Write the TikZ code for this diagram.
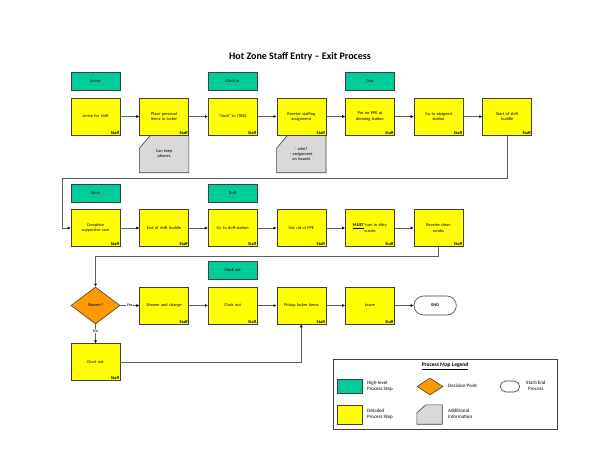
\documentclass[tikz,border=0pt]{standalone}
\usepackage{fontspec}
\setmainfont{Carlito}
\usepackage{tikz}
\usetikzlibrary{arrows.meta, positioning, shapes.geometric, shapes.misc, backgrounds}

\definecolor{phasegreen}{RGB}{0,204,153}
\definecolor{stepyellow}{RGB}{255,255,0}
\definecolor{decorange}{RGB}{255,153,0}
\definecolor{notegray}{RGB}{217,217,217}
\definecolor{edgegray}{RGB}{64,64,64}
\definecolor{linegray}{RGB}{95,95,95}

\newcommand{\boxfont}{\fontsize{4.3}{5.2}\selectfont}
% outline of a note with its top left corner cut off
\newcommand{\notecut}[3]{%
  \filldraw[draw=edgegray, fill=notegray, line width=0.6pt]
    ([yshift=-#3]#1.north west) -- ([xshift=#2]#1.north west) -- (#1.north east)
    -- (#1.south east) -- (#1.south west) -- cycle;}

\tikzset{
  stepbox/.style={rectangle, draw=edgegray, line width=0.6pt, fill=stepyellow,
    minimum width=49pt, minimum height=37pt, inner sep=2pt, text width=45pt,
    align=center, font=\boxfont,
    label={[anchor=south east, inner sep=1pt, font=\boxfont\bfseries]south east:Staff}},
  phase/.style={rectangle, draw=edgegray, line width=0.6pt, fill=phasegreen,
    minimum width=49pt, minimum height=18pt, font=\boxfont},
  notebox/.style={rectangle, minimum width=49pt, minimum height=37pt, inner sep=2pt,
    text width=45pt, align=center, font=\boxfont},
  decision/.style={diamond, draw=edgegray, line width=0.6pt, fill=decorange,
    minimum width=49pt, minimum height=37pt, inner sep=0pt, font=\boxfont},
  terminal/.style={rounded rectangle, draw=edgegray, line width=0.6pt, fill=white,
    minimum width=49pt, minimum height=19pt, font=\boxfont\bfseries},
  flow/.style={-{Latex[length=3pt,width=3pt,black]}, draw=linegray, line width=0.8pt},
  legtext/.style={anchor=west, align=left, font=\fontsize{5}{6}\selectfont, inner sep=0pt}
}

\begin{document}
\begin{tikzpicture}[x=1pt, y=-1pt, node distance=19pt]
  \useasboundingbox (0,0) rectangle (600,469);

  \node (title) at (300,57) {\bfseries\fontsize{10}{12}\selectfont Hot Zone Staff Entry -- Exit Process};

  % entry row
  \node (a1) [stepbox] at (95.5,116.5) {Arrive for shift};
  \node (a2) [stepbox, right=of a1] {Place personal\\items in locker};
  \node (a3) [stepbox, right=of a2] {``clock'' in (TBD)};
  \node (a4) [stepbox, right=of a3] {Receive staffing\\assignment};
  \node (a5) [stepbox, right=of a4] {Put on PPE at\\donning station};
  \node (a6) [stepbox, right=of a5] {Go to assigned\\station};
  \node (a7) [stepbox, right=of a6] {Start of shift\\huddle};

  \node (pArrive) [phase, above=7pt of a1] {Arrive};
  \node (pClockin) [phase, above=7pt of a3] {Clock in};
  \node (pDon) [phase, above=7pt of a5] {Don};

  \node (n1) [notebox, below=0pt of a2] {Can keep\\phones};
  \node (n2) [notebox, below=0pt of a4] {- who?\\- assignment\\on boards};

  % work row
  \node (w1) [stepbox] at (95.5,228) {Complete\\supportive care};
  \node (w2) [stepbox, right=of w1] {End of shift huddle};
  \node (w3) [stepbox, right=of w2] {Go to doff station};
  \node (w4) [stepbox, right=of w3] {Get rid of PPE};
  \node (w5) [stepbox, right=of w4] {\textbf{\underline{MUST}} turn in dirty\\scrubs};
  \node (w6) [stepbox, right=of w5] {Receive clean\\scrubs};

  \node (pWork) [phase, above=7pt of w1] {Work};
  \node (pDoff) [phase, above=7pt of w3] {Doff};

  % exit row
  \node (dec) [decision] at (95.5,305.5) {Shower?};
  \node (x1) [stepbox, right=of dec] {Shower and change};
  \node (x2) [stepbox, right=of x1] {Clock out};
  \node (x3) [stepbox, right=of x2] {Pickup locker items};
  \node (x4) [stepbox, right=of x3] {Leave};
  \node (done) [terminal, right=of x4] {END};
  \node (co) [stepbox, below=of dec] {Clock out};

  \node (pClockout) [phase, above=7pt of x2] {Clock out};

  \coordinate (t1) at (62,178);
  \coordinate (t2) at (95.5,256);

  \path[flow]
  (a1) edge (a2)
  (a2) edge (a3)
  (a3) edge (a4)
  (a4) edge (a5)
  (a5) edge (a6)
  (a6) edge (a7)
  (w1) edge (w2)
  (w2) edge (w3)
  (w3) edge (w4)
  (w4) edge (w5)
  (w5) edge (w6)
  (dec) edge node [fill=white, inner sep=0.5pt, font=\boxfont] {Yes} (x1)
  (x1) edge (x2)
  (x2) edge (x3)
  (x3) edge (x4)
  (x4) edge (done)
  (dec) edge node [pos=0.35, fill=white, inner sep=0.5pt, font=\boxfont] {No} (co);

  \draw[flow] (a7.south) |- (t1) |- (w1.west);
  \draw[flow] (w6.south) |- (t2) -- (dec.north);
  \draw[flow] (co.east) -| (x3.south);

  % legend
  \node (legend) [draw=edgegray, line width=0.6pt, minimum width=224pt, minimum height=70pt] at (445,394) {};
  \node (legtitle) at (445,366) {\fontsize{5.5}{6.5}\selectfont\bfseries\underline{Process Map Legend}};
  \node (lgHigh) [phase, minimum width=25pt, minimum height=14pt] at (349.5,386) {};
  \node (lgHighT) [legtext] at (367,386) {High-level\\Process Step};
  \node (lgDec) [decision, minimum width=26pt, minimum height=17pt] at (430,386.5) {};
  \node (lgDecT) [legtext] at (448,386) {Decision Point};
  \node (lgEnd) [terminal, minimum width=26pt, minimum height=11pt] at (510,386.5) {};
  \node (lgEndT) [legtext, align=center] at (526,386) {Start/End\\Process};
  \node (lgDet) [rectangle, draw=edgegray, line width=0.6pt, fill=stepyellow, minimum width=25pt, minimum height=19pt] at (349.5,414.5) {};
  \node (lgDetT) [legtext] at (367,414) {Detailed\\Process Step};
  \node (lgAdd) [notebox, minimum width=25pt, minimum height=19pt, text width=15pt] at (429.5,414.5) {};
  \node (lgAddT) [legtext] at (448,414) {Additional\\Information};

  \begin{pgfonlayer}{background}
    \notecut{n1}{11pt}{13pt}
    \notecut{n2}{11pt}{13pt}
    \notecut{lgAdd}{9pt}{8pt}
  \end{pgfonlayer}
\end{tikzpicture}
\end{document}
